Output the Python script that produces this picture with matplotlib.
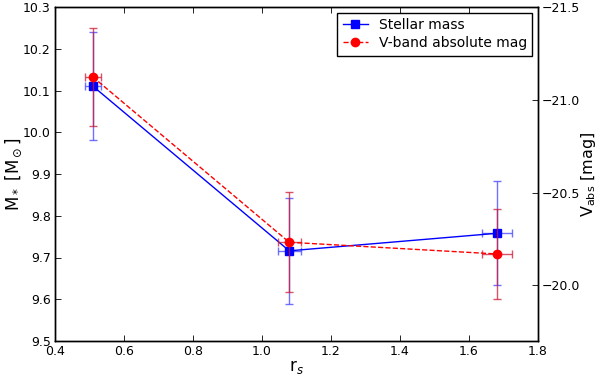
import matplotlib
matplotlib.use("Agg")
import matplotlib.pyplot as plt

# binned values
r_s = [0.509, 1.079, 1.681]
r_s_err = [0.023, 0.034, 0.043]

mstar = [10.111, 9.716, 9.758]
mstar_err = [0.13, 0.127, 0.125]

vabs = [-21.124, -20.232, -20.169]
vabs_err = [0.264, 0.27, 0.24]

plt.rcParams.update({
    'font.family': 'DejaVu Sans',
    'xtick.direction': 'in',
    'ytick.direction': 'in',
    'xtick.top': True,
    'xtick.labelsize': 9,
    'ytick.labelsize': 9,
    'axes.labelsize': 12,
    'legend.fontsize': 10,
})

fig = plt.figure(figsize=(6, 3.77), dpi=100)
ax = fig.add_axes([55 / 600, 36 / 377, 483 / 600, 334 / 377])
ax2 = ax.twinx()

l1 = ax.errorbar(r_s, mstar, xerr=r_s_err, yerr=mstar_err, color='b', marker='s',
                 markersize=6, linestyle='-', linewidth=1, capsize=3,
                 ecolor=(0.3, 0.3, 1.0, 0.8), label='Stellar mass')
l2 = ax2.errorbar(r_s, vabs, xerr=r_s_err, yerr=vabs_err, color='r', marker='o',
                  markersize=6, linestyle='--', linewidth=1, capsize=3,
                  ecolor=(0.8, 0.1, 0.2, 0.75), label='V-band absolute mag')

ax.set_xlim(0.4, 1.8)
ax.set_ylim(9.5, 10.3)
ax2.set_ylim(-19.7, -21.5)
ax2.set_yticks([-20.0, -20.5, -21.0, -21.5])

ax.set_xlabel(r'r$_s$', labelpad=0)
ax.set_ylabel(r'M$_*$ [M$_\odot$]', va='center')
ax2.set_ylabel(r'V$_{\rm abs}$ [mag]', va='center', fontsize=11.5)
ax.yaxis.set_label_coords(-0.085, 0.5)
ax2.yaxis.set_label_coords(1.104, 0.5)

for a in (ax, ax2):
    a.tick_params(length=4, width=0.6, pad=3)
    for s in a.spines.values():
        s.set_linewidth(1.0)

# legend shows only the line + marker, no error bars
ax.legend([l1[0], l2[0]], ['Stellar mass', 'V-band absolute mag'], loc='upper right',
          fancybox=False, edgecolor='black', framealpha=1.0, handlelength=1.8,
          borderpad=0.4, labelspacing=0.3, borderaxespad=0.4)

fig.savefig('out.png', dpi=100)
